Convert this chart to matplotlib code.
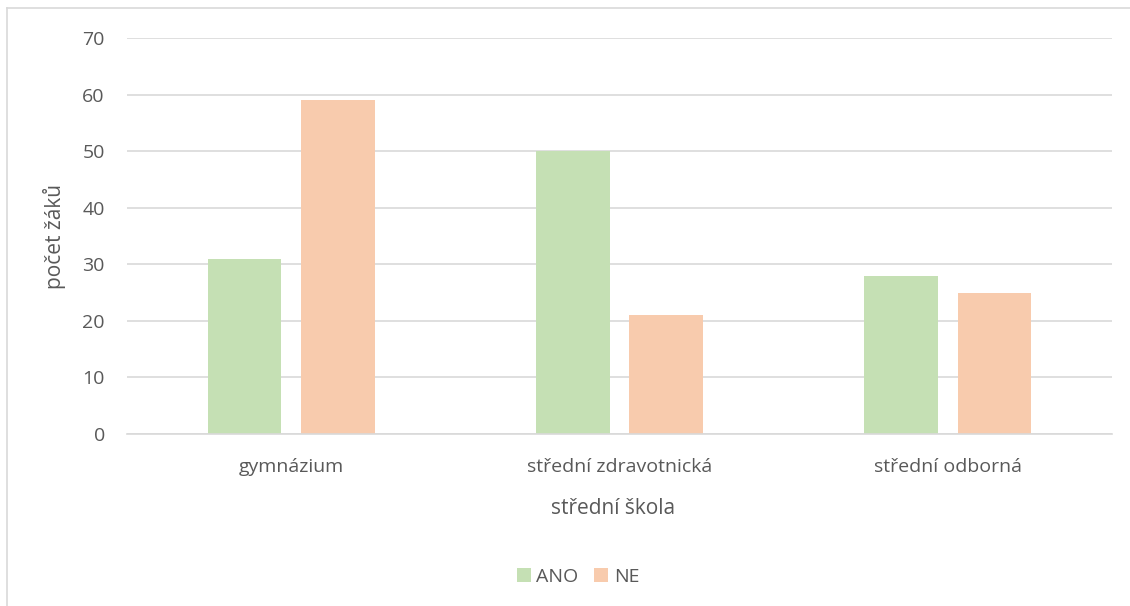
import matplotlib
matplotlib.use("Agg")
import matplotlib.pyplot as plt
import numpy as np
from matplotlib.lines import Line2D

categories = ["gymnázium", "střední zdravotnická", "střední odborná"]
ano = [31, 50, 28]
ne = [59, 21, 25]

_GREEN = "#c5e0b4"
_ORANGE = "#f8cbad"
_GRID = "#d9d9d9"
_TEXT = "#595959"

W, H = 1130, 606

plt.rcParams["font.family"] = ["Open Sans", "DejaVu Sans"]

fig = plt.figure(figsize=(W / 100, H / 100), dpi=100)
ax = fig.add_axes([127 / W, 1 - 434 / H, (1112 - 127) / W, (434 - 38) / H])

x = np.arange(len(categories))
width = 0.225
offset = 0.142
ax.bar(x - offset, ano, width, color=_GREEN, label="ANO", zorder=2)
ax.bar(x + offset, ne, width, color=_ORANGE, label="NE", zorder=2)

ax.set_xlim(-0.5, len(categories) - 0.5)
ax.set_ylim(0, 70)
ax.set_yticks(range(0, 71, 10))
ax.yaxis.grid(True, color=_GRID, linewidth=1.2, zorder=0)
ax.set_axisbelow(True)
for spine in ["top", "right", "left"]:
    ax.spines[spine].set_visible(False)
ax.spines["bottom"].set_color(_GRID)
ax.spines["bottom"].set_linewidth(1.2)

ax.set_xticks(x)
ax.set_xticklabels(categories)
ax.tick_params(axis="both", length=0, labelsize=14, colors=_TEXT)
ax.tick_params(axis="x", pad=17)
ax.tick_params(axis="y", pad=16)

# axis titles placed in pixel terms of the figure
fig.text(613 / W, 1 - 508 / H, "střední škola", fontsize=15, color=_TEXT,
         ha="center", va="center")
fig.text(55 / W, 1 - 236 / H, "počet žáků", fontsize=15, color=_TEXT,
         rotation=90, ha="center", va="center")

fig.legend(*ax.get_legend_handles_labels(), loc="center",
           bbox_to_anchor=(578 / W, 1 - 577 / H), ncol=2, frameon=False,
           fontsize=14, labelcolor=_TEXT, handlelength=0.72, handleheight=0.72,
           handletextpad=0.3, columnspacing=0.8)

# chart frame: only the top and left edges fall inside the image
fig.add_artist(Line2D([7 / W, 1], [1 - 8 / H, 1 - 8 / H], transform=fig.transFigure,
                      color=_GRID, linewidth=1.2))
fig.add_artist(Line2D([7 / W, 7 / W], [0, 1 - 8 / H], transform=fig.transFigure,
                      color=_GRID, linewidth=1.2))

fig.savefig("out.png", dpi=100)
